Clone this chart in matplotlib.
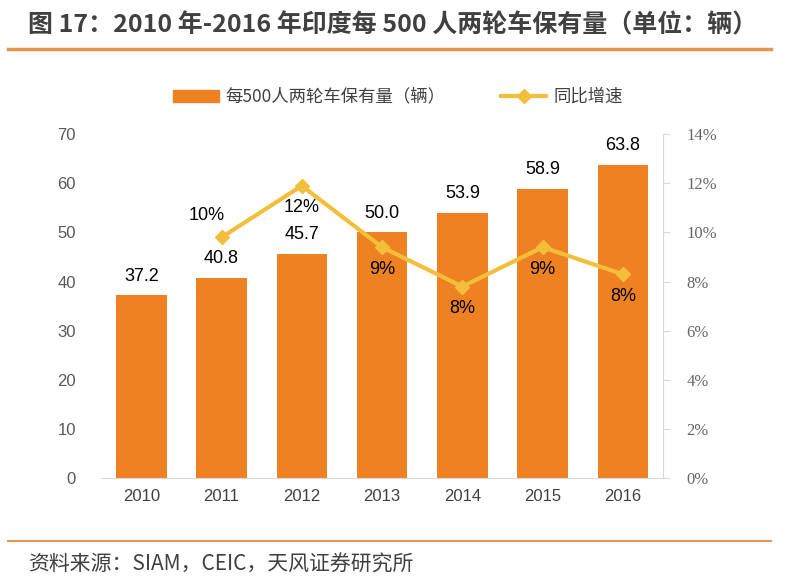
import matplotlib
matplotlib.use("Agg")
import matplotlib.pyplot as plt
from matplotlib.lines import Line2D
from matplotlib.patches import Patch

plt.rcParams['font.family'] = ['Noto Sans CJK SC', 'DejaVu Sans']

years = ["2010", "2011", "2012", "2013", "2014", "2015", "2016"]
ownership = [37.2, 40.8, 45.7, 50.0, 53.9, 58.9, 63.8]
growth = [None, 9.8, 11.9, 9.4, 7.8, 9.4, 8.3]
growth_labels = ["", "10%", "12%", "9%", "8%", "9%", "8%"]
growth_label_above = [False, True, False, False, False, False, False]

BAR_C = "#EE8222"
LINE_C = "#F3BE3C"
RULE_C = "#E3964C"
GRAY = "#595959"
NUM_FONT = "Liberation Sans"

fig = plt.figure(figsize=(7.96, 5.86), dpi=100)
ax = fig.add_axes([0.127, 0.184, 0.706, 0.587])
x = list(range(len(years)))
ax.bar(x, ownership, width=0.63, color=BAR_C, zorder=2)
ax.set_xlim(-0.5, len(years) - 0.5)
ax.set_ylim(0, 70)
ax.set_yticks(range(0, 71, 10))
ax.set_yticklabels([str(t) for t in range(0, 71, 10)], family=NUM_FONT)
ax.set_xticks(x)
ax.set_xticklabels(years, family=NUM_FONT)
for s in ("top", "right", "left"):
    ax.spines[s].set_visible(False)
ax.spines["bottom"].set_color("#D9D9D9")
ax.tick_params(axis="y", length=0, labelsize=12, labelcolor=GRAY, pad=18)
ax.tick_params(axis="x", length=0, labelsize=12, labelcolor="#404040", pad=8)
for xi, v in zip(x, ownership):
    ax.text(xi, v + 2.2, f"{v:.1f}", ha="center", va="bottom", fontsize=13,
            color="black", family=NUM_FONT)

ax2 = ax.twinx()
gx = [xi for xi, g in zip(x, growth) if g is not None]
gy = [g for g in growth if g is not None]
ax2.plot(gx, gy, color=LINE_C, lw=3, marker="D", ms=7, zorder=3)
ax2.set_ylim(0, 14)
ax2.set_yticks(range(0, 15, 2))
ax2.set_yticklabels([f"{t}%" for t in range(0, 15, 2)],
                    family="Liberation Serif")
for s in ("top", "left", "bottom"):
    ax2.spines[s].set_visible(False)
ax2.spines["right"].set_color("#D9D9D9")
ax2.tick_params(axis="y", length=5, color="#D9D9D9", labelsize=12,
                labelcolor="#666666", pad=12)
for xi, g, lab, up in zip(x, growth, growth_labels, growth_label_above):
    if g is None:
        continue
    ax2.text(xi - (0.18 if up else 0), g + (0.9 if up else -0.9), lab,
             ha="center", va="center", fontsize=13, color="black",
             family=NUM_FONT)

handles = [Patch(color=BAR_C), Line2D([], [], color=LINE_C, lw=3, marker="D", ms=7)]
fig.legend(handles, ["每500人两轮车保有量（辆）", "同比增速"],
           loc="center", bbox_to_anchor=(0.5, 0.835), ncol=2, frameon=False,
           fontsize=12.5, handlelength=2.6, handletextpad=0.4,
           columnspacing=3.2, labelcolor="#404040")

fig.text(0.035, 0.957, "图 17：2010 年-2016 年印度每 500 人两轮车保有量（单位：辆）",
         fontsize=18, fontweight="bold", color="#404040", va="center")
fig.add_artist(Line2D([0.01, 0.968], [0.916, 0.916], color=RULE_C, lw=2.5))
fig.add_artist(Line2D([0.01, 0.968], [0.077, 0.077], color=RULE_C, lw=1.5))
fig.text(0.035, 0.036, "资料来源：SIAM，CEIC，天风证券研究所",
         fontsize=15, color="#404040", va="center")

fig.savefig("out.png", dpi=100)
